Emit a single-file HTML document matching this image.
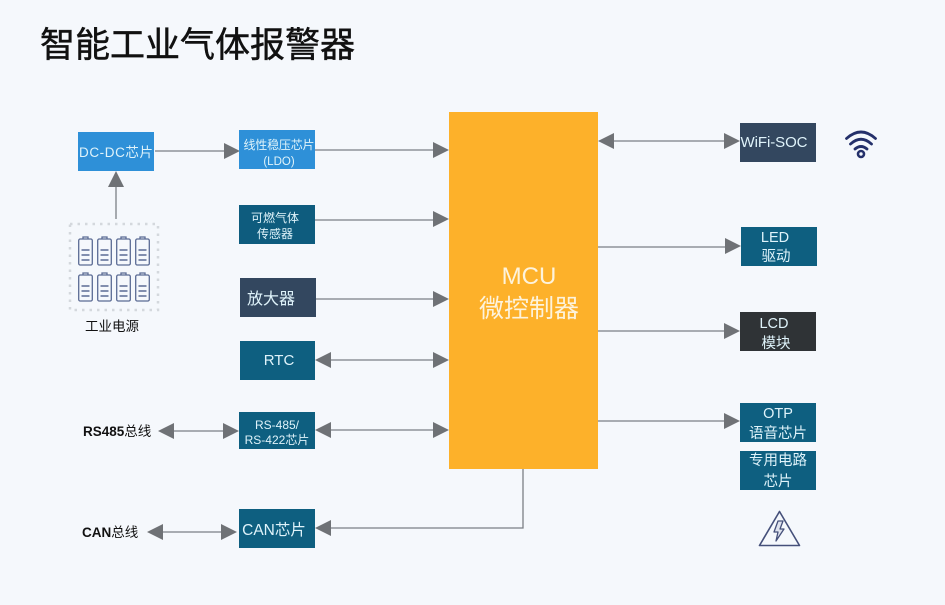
<!DOCTYPE html>
<html>
<head>
<meta charset="utf-8">
<style>
html,body{margin:0;padding:0;background:#f5f8fc;}
svg{display:block;}
text{font-family:"Liberation Sans","Noto Sans CJK SC",sans-serif;}
.w{fill:#dff3fa;text-anchor:middle;}
</style>
</head>
<body>
<svg width="945" height="605" viewBox="0 0 945 605" xmlns="http://www.w3.org/2000/svg">
<defs>
<g id="bat" fill="none" stroke="#5b6b94" stroke-width="1.3">
<rect x="0.7" y="3" width="13.6" height="26" rx="1.5"/>
<path d="M5 3V1h5v2"/>
<path d="M3.5 14h8M3.5 19h8M3.5 24h8" stroke-width="1.6"/>
</g>
</defs>
<rect width="945" height="605" fill="#f5f8fc"/>
<text x="40" y="57" font-size="35" fill="#111" stroke="#111" stroke-width="0.5">智能工业气体报警器</text>

<!-- MCU -->
<rect x="449" y="112" width="149" height="357" fill="#fdb12a"/>
<text x="529" y="284" font-size="24" fill="#fdf3dc" text-anchor="middle">MCU</text>
<text x="529" y="317" font-size="25" fill="#fdf3dc" text-anchor="middle">微控制器</text>

<!-- connectors -->
<g stroke="#7b7f85" stroke-width="1.3" fill="none">
<path d="M155 151H226"/>
<path d="M116 219V186"/>
<path d="M315 150H434"/>
<path d="M315 220H434"/>
<path d="M316 299H434"/>
<path d="M330 360H434"/>
<path d="M330 430H434"/>
<path d="M174 431H224"/>
<path d="M162 532H222"/>
<path d="M523 469V528H330"/>
<path d="M613 141H725"/>
<path d="M598 247H725"/>
<path d="M598 331H725"/>
<path d="M598 421H725"/>
</g>
<g fill="#6f7276">
<path d="M240 151L224 143V159Z"/>
<path d="M116 171L108 187H124Z"/>
<path d="M449 150L433 142V158Z"/>
<path d="M449 219L433 211V227Z"/>
<path d="M449 299L433 291V307Z"/>
<path d="M449 360L433 352V368Z"/>
<path d="M315 360L331 352V368Z"/>
<path d="M449 430L433 422V438Z"/>
<path d="M315 430L331 422V438Z"/>
<path d="M239 431L223 423V439Z"/>
<path d="M158 431L174 423V439Z"/>
<path d="M237 532L221 524V540Z"/>
<path d="M147 532L163 524V540Z"/>
<path d="M315 528L331 520V536Z"/>
<path d="M598 141L614 133V149Z"/>
<path d="M740 141L724 133V149Z"/>
<path d="M741 246L725 238V254Z"/>
<path d="M740 331L724 323V339Z"/>
<path d="M740 421L724 413V429Z"/>
</g>

<!-- left blocks -->
<rect x="78" y="132" width="76" height="39" fill="#2e90d8"/>
<text x="116" y="157" font-size="13.500" class="w" textLength="74">DC-DC芯片</text>

<rect x="239" y="130" width="76" height="39" fill="#2e90d8"/>
<text x="279" y="149" font-size="12" class="w" textLength="71">线性稳压芯片</text>
<text x="279" y="165" font-size="11.500" class="w">(LDO)</text>

<rect x="239" y="205" width="76" height="39" fill="#0e5c7e"/>
<text x="275" y="222" font-size="12" class="w">可燃气体</text>
<text x="275" y="238" font-size="12" class="w">传感器</text>

<rect x="240" y="278" width="76" height="39" fill="#33475f"/>
<text x="271" y="304" font-size="16" class="w">放大器</text>

<rect x="240" y="341" width="75" height="39" fill="#0e5f80"/>
<text x="279" y="365" font-size="15" class="w">RTC</text>

<rect x="239" y="412" width="76" height="37" fill="#0e5f80"/>
<text x="277" y="429" font-size="12" class="w">RS-485/</text>
<text x="277" y="444" font-size="12" class="w">RS-422芯片</text>

<rect x="239" y="509" width="76" height="39" fill="#0e5f80"/>
<text x="274" y="535" font-size="15.500" class="w">CAN芯片</text>

<text x="83" y="436" font-size="13.500" font-weight="bold" fill="#111">RS485<tspan font-weight="normal">总线</tspan></text>
<text x="82" y="537" font-size="13.500" font-weight="bold" fill="#111">CAN<tspan font-weight="normal">总线</tspan></text>

<!-- battery pack -->
<rect x="70" y="224" width="88" height="86" fill="none" stroke="#d4d8dd" stroke-width="2.500" stroke-dasharray="2.500 5"/>
<use href="#bat" x="78" y="236"/>
<use href="#bat" x="97" y="236"/>
<use href="#bat" x="116" y="236"/>
<use href="#bat" x="135" y="236"/>
<use href="#bat" x="78" y="272"/>
<use href="#bat" x="97" y="272"/>
<use href="#bat" x="116" y="272"/>
<use href="#bat" x="135" y="272"/>
<text x="112" y="331" font-size="13.500" fill="#111" text-anchor="middle">工业电源</text>

<!-- right blocks -->
<rect x="740" y="123" width="76" height="39" fill="#33475f"/>
<text x="774" y="147" font-size="15" class="w" textLength="67">WiFi-SOC</text>

<rect x="741" y="227" width="76" height="39" fill="#0e5f80"/>
<text x="775" y="242" font-size="14.500" class="w">LED</text>
<text x="776" y="261" font-size="14.500" class="w">驱动</text>

<rect x="740" y="312" width="76" height="39" fill="#2f3336"/>
<text x="774" y="328" font-size="14.500" class="w">LCD</text>
<text x="776" y="348" font-size="14.500" class="w">模块</text>

<rect x="740" y="403" width="76" height="39" fill="#0e5f80"/>
<text x="778" y="418" font-size="14.500" class="w">OTP</text>
<text x="778" y="438" font-size="14.500" class="w">语音芯片</text>

<rect x="740" y="451" width="76" height="39" fill="#0e5f80"/>
<text x="778" y="465" font-size="14.500" class="w">专用电路</text>
<text x="778" y="486" font-size="14.500" class="w">芯片</text>

<!-- wifi icon -->
<g fill="none" stroke="#24306a" stroke-width="2.800" stroke-linecap="round">
<path d="M846.500 138.500Q861 125.500 875.500 138.500"/>
<path d="M850.500 144Q861 134.500 871.500 144"/>
<path d="M855 149Q861 144 867 149"/>
</g>
<circle cx="861" cy="154" r="3" fill="#f5f8fc" stroke="#24306a" stroke-width="2.600"/>

<!-- warning icon -->
<path d="M779.500 511.500L759.500 545.500H799.500Z" fill="none" stroke="#45507a" stroke-width="1.600" stroke-linejoin="round"/>
<path d="M778 521L774 532H778L776 541L784 529H780L783 521Z" fill="#dfe3ee" stroke="#45507a" stroke-width="1.300" stroke-linejoin="round"/>
</svg>
</body>
</html>
